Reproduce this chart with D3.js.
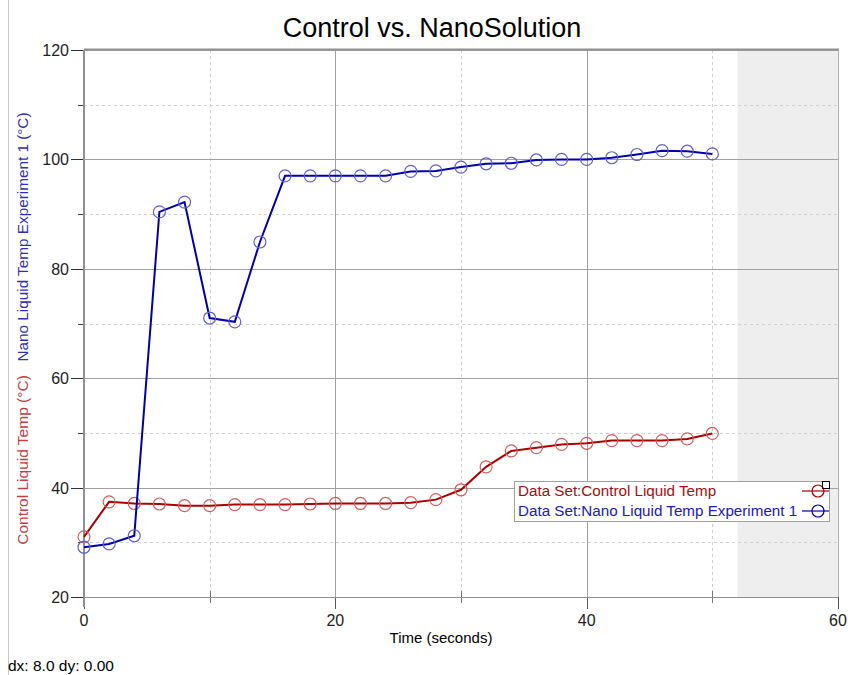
<!DOCTYPE html>
<head>
  <meta charset="utf-8">
  <script src="https://d3js.org/d3.v7.min.js"></script>
  <style>
    body { margin:0; background:#fff; font-family:"Liberation Sans", Arial, sans-serif; }
    svg text { font-family:"Liberation Sans", Arial, sans-serif; }
  </style>
</head>
<body>
<script>
  // time in seconds, sampled every 2 s
  var times = [0,2,4,6,8,10,12,14,16,18,20,22,24,26,28,30,32,34,36,38,40,42,44,46,48,50];
  var controlTemp = [31.0,37.4,37.1,37.0,36.7,36.7,36.9,36.9,36.9,37.0,37.1,37.1,37.1,37.25,37.8,39.6,
                     43.8,46.7,47.3,47.9,48.1,48.6,48.6,48.6,48.9,49.9];
  var nanoTemp = [29.1,29.7,31.2,90.4,92.2,71.0,70.3,84.9,97.0,97.0,97.0,97.0,97.0,97.8,97.9,98.6,
                  99.2,99.3,99.9,100.0,100.0,100.3,100.9,101.6,101.5,101.0];
  var majorX = [0,20,40,60], minorX = [10,30,50];
  var majorY = [20,40,60,80,100,120], minorY = [30,50,70,90,110];

  var series = [
    {name:"Data Set:Control Liquid Temp", values:controlTemp, line:"#a80000", mark:"#d06060", text:"#a01010"},
    {name:"Data Set:Nano Liquid Temp Experiment 1", values:nanoTemp, line:"#0000aa", mark:"#6060cc", text:"#2020b0"}
  ];

  var W = 848, H = 675;
  var pL = 84, pR = 838, pT = 50, pB = 597;

  var svg = d3.select("body").append("svg")
    .attr("width", W).attr("height", H);

  var x = d3.scaleLinear().domain([0, 60]).range([pL, pR]);
  var y = d3.scaleLinear().domain([20, 120]).range([pB, pT]);

  function px(v) { return Math.round(x(v)) + 0.5; }
  function py(v) { return Math.round(y(v)) + 0.5; }

  // page edge line
  svg.append("line").attr("x1", 8.5).attr("x2", 8.5).attr("y1", 0).attr("y2", H)
    .attr("stroke", "#c8c8c8");

  // shaded region past the data
  svg.append("rect")
    .attr("x", x(52)).attr("y", pT)
    .attr("width", x(60) - x(52)).attr("height", pB - pT)
    .attr("fill", "#eeeeee");

  // minor grid
  svg.selectAll(".mgx").data(minorX).enter().append("line")
    .attr("x1", px).attr("x2", px)
    .attr("y1", pT).attr("y2", pB)
    .attr("stroke", "#cfcfcf").attr("stroke-dasharray", "3,3");
  svg.selectAll(".mgy").data(minorY).enter().append("line")
    .attr("y1", py).attr("y2", py)
    .attr("x1", pL).attr("x2", pR)
    .attr("stroke", "#cfcfcf").attr("stroke-dasharray", "3,3");
  // minor tick stubs
  svg.selectAll(".mtx").data(minorX).enter().append("line")
    .attr("x1", px).attr("x2", px)
    .attr("y1", pB - 6).attr("y2", pB + 6).attr("stroke", "#777");
  svg.selectAll(".mty").data(minorY).enter().append("line")
    .attr("y1", py).attr("y2", py)
    .attr("x1", pL - 6).attr("x2", pL).attr("stroke", "#444");

  // major grid
  svg.selectAll(".gx").data(majorX).enter().append("line")
    .attr("x1", px).attr("x2", px)
    .attr("y1", pT).attr("y2", pB)
    .attr("stroke", "#a0a0a0");
  svg.selectAll(".gy").data(majorY).enter().append("line")
    .attr("y1", py).attr("y2", py)
    .attr("x1", pL).attr("x2", pR)
    .attr("stroke", "#a0a0a0");
  svg.selectAll(".ty").data(majorY).enter().append("line")
    .attr("y1", py).attr("y2", py)
    .attr("x1", pL - 13).attr("x2", pL).attr("stroke", "#333");
  svg.selectAll(".tx").data(majorX).enter().append("line")
    .attr("x1", px).attr("x2", px)
    .attr("y1", pB).attr("y2", pB + 12).attr("stroke", "#555");

  // axis frame
  svg.append("line").attr("x1", pL).attr("x2", pL).attr("y1", pT).attr("y2", pB + 10)
    .attr("stroke", "#909090").attr("stroke-width", 2);
  svg.append("line").attr("x1", pL).attr("x2", pR).attr("y1", pB + 0.5).attr("y2", pB + 0.5)
    .attr("stroke", "#909090");
  svg.append("line").attr("x1", pL).attr("x2", pR + 1).attr("y1", pT - 0.5).attr("y2", pT - 0.5)
    .attr("stroke", "#909090").attr("stroke-width", 2);
  svg.append("line").attr("x1", pR + 0.5).attr("x2", pR + 0.5).attr("y1", pT).attr("y2", pB)
    .attr("stroke", "#b0b0b0");

  // tick labels
  svg.selectAll(".lx").data(majorX).enter().append("text")
    .attr("x", function(d){ return x(d); }).attr("y", pB + 29)
    .attr("text-anchor", "middle").attr("font-size", 16).attr("fill", "#222")
    .text(function(d){ return d; });
  svg.selectAll(".ly").data(majorY).enter().append("text")
    .attr("x", pL - 15).attr("y", function(d){ return y(d) + 6; })
    .attr("text-anchor", "end").attr("font-size", 16).attr("fill", "#222")
    .text(function(d){ return d; });

  // titles
  svg.append("text").attr("x", 432).attr("y", 37)
    .attr("text-anchor", "middle").attr("font-size", 27).attr("fill", "#000")
    .text("Control vs. NanoSolution");
  svg.append("text").attr("x", 441).attr("y", 643)
    .attr("text-anchor", "middle").attr("font-size", 15).attr("fill", "#000")
    .text("Time (seconds)");
  svg.append("text").attr("transform", "translate(28,460) rotate(-90)")
    .attr("text-anchor", "middle").attr("font-size", 15.5).attr("fill", "#c04040")
    .text("Control Liquid Temp (°C)");
  svg.append("text").attr("transform", "translate(28,237) rotate(-90)")
    .attr("text-anchor", "middle").attr("font-size", 15.3).attr("fill", "#3030b0")
    .text("Nano Liquid Temp Experiment 1 (°C)");
  svg.append("text").attr("x", 8).attr("y", 671)
    .attr("font-size", 15.5).attr("fill", "#000")
    .text("dx: 8.0 dy: 0.00");

  // series
  var line = d3.line()
    .x(function(d, i){ return x(times[i]); })
    .y(function(d){ return y(d); });

  series.forEach(function(s) {
    svg.append("path").datum(s.values)
      .attr("d", line).attr("fill", "none")
      .attr("stroke", s.line).attr("stroke-width", 2);
    svg.selectAll(null).data(s.values).enter().append("circle")
      .attr("cx", function(d, i){ return x(times[i]); })
      .attr("cy", function(d){ return y(d); })
      .attr("r", 6).attr("fill", "none")
      .attr("stroke", s.mark).attr("stroke-width", 1.2);
  });

  // legend
  var lg = svg.append("g").attr("transform", "translate(514,481)");
  lg.append("rect").attr("x", 0.5).attr("y", 0.5).attr("width", 315).attr("height", 40)
    .attr("fill", "#fff").attr("stroke", "#a0a0a0");
  series.forEach(function(s, i) {
    lg.append("text").attr("x", 4).attr("y", 15 + i * 20)
      .attr("font-size", 15.2).attr("fill", s.text)
      .text(s.name);
    lg.append("line").attr("x1", 288).attr("x2", 315)
      .attr("y1", 10 + i * 20).attr("y2", 10 + i * 20)
      .attr("stroke", s.line).attr("stroke-width", 1.2);
    lg.append("circle").attr("cx", 304).attr("cy", 10 + i * 20).attr("r", 6)
      .attr("fill", "none").attr("stroke", s.line).attr("stroke-width", 1.2);
  });
  lg.append("rect").attr("x", 308.5).attr("y", 0.5).attr("width", 7).attr("height", 7)
    .attr("fill", "none").attr("stroke", "#000");
</script>
</body>
